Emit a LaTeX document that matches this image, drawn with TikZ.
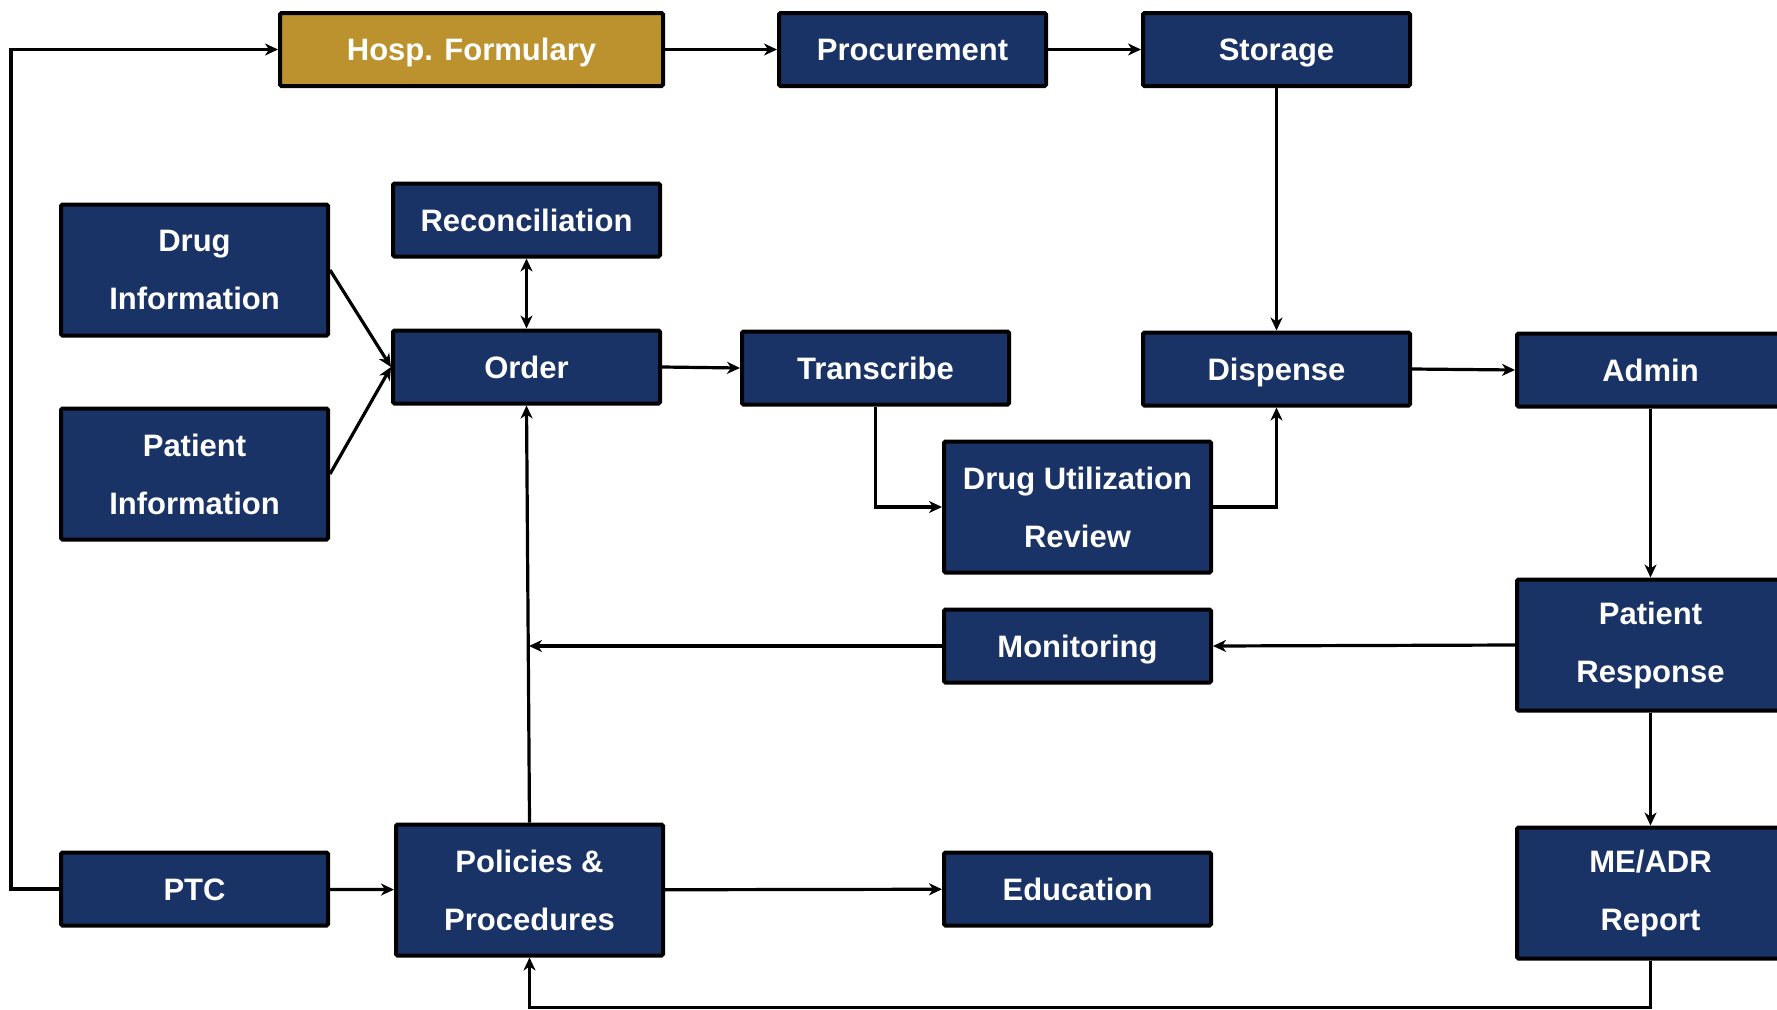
\documentclass[tikz,border=0pt]{standalone}
\usepackage{fontspec}
\setmainfont{Liberation Sans}
\usetikzlibrary{arrows.meta}
\definecolor{navy}{RGB}{26,51,102}
\definecolor{gold}{RGB}{188,146,46}
\tikzset{
  boxbase/.style={draw=black, line width=4pt, fill=navy, text=white,
    font=\fontsize{31}{58}\selectfont\bfseries, align=center,
    minimum width=267pt, inner sep=0pt, rounded corners=1.5pt},
  box/.style={boxbase, minimum height=73pt, text height=22pt, text depth=0pt},
  tallbox/.style={boxbase, minimum height=131pt},
  goldbox/.style={box, fill=gold},
  link/.style={line width=3.2pt, draw=black},
  arrow/.style={link, -{Stealth[length=13pt,width=12pt,inset=4pt]}},
  twoway/.style={link, {Stealth[length=13pt,width=12pt,inset=4pt]}-{Stealth[length=13pt,width=12pt,inset=4pt]}}
}
\begin{document}
\begin{tikzpicture}[x=1pt,y=-1pt]
\useasboundingbox (0,0) rectangle (1777,1009);
\clip (0,0) rectangle (1777,1009);

% supply chain row
\node[goldbox, minimum width=383pt] (hosp) at (471.5,49.5) {Hosp. Formulary};
\node[box] (proc) at (912.5,49.5) {Procurement};
\node[box] (stor) at (1276.5,49.5) {Storage};

% ordering
\node[box] (recon) at (526.5,220) {Reconciliation};
\node[tallbox] (druginfo) at (194.5,270) {Drug\\Information};
\node[box] (order) at (526.5,367) {Order};
\node[tallbox] (patinfo) at (194.5,474) {Patient\\Information};
\node[box] (trans) at (875.5,368) {Transcribe};
\node[box] (disp) at (1276.5,369) {Dispense};
\node[box] (admin) at (1650.5,370) {Admin};
\node[tallbox] (dur) at (1077.5,507) {Drug Utilization\\Review};

% monitoring and feedback
\node[box] (mon) at (1077.5,646) {Monitoring};
\node[tallbox] (presp) at (1650.5,645) {Patient\\Response};
\node[box] (ptc) at (194.5,889) {PTC};
\node[tallbox] (pol) at (529.5,890) {Policies \&\\Procedures};
\node[box] (edu) at (1077.5,889) {Education};
\node[tallbox] (mead) at (1650.5,893) {ME/ADR\\Report};

\coordinate (lft) at (11,889);
\coordinate (monend) at (529,646);
\coordinate (bot) at (1650.5,1007.5);

% connectors
\draw[arrow] (hosp) -- (proc);
\draw[arrow] (proc) -- (stor);
\draw[arrow] (stor) -- (disp);
\draw[twoway] (recon) -- (order);
\draw[arrow] (druginfo.east) -- (order.west);
\draw[arrow] (patinfo.east) -- (order.west);
\draw[arrow] (order.east) -- (trans.west);
\draw[arrow] (trans.south) |- (dur.west);
\draw[arrow] (dur.east) -| (disp.south);
\draw[arrow] (disp.east) -- (admin.west);
\draw[arrow] (admin) -- (presp);
\draw[arrow] (presp.west) -- (mon.east);
\draw[arrow] (mon.west) -- (monend);
\draw[arrow] (pol.north) -- (order.south);
\draw[arrow] (presp) -- (mead);
\draw[arrow] (ptc) -- (pol);
\draw[arrow] (pol) -- (edu);
\draw[arrow] (ptc.west) -- (lft) |- (hosp.west);
\draw[arrow] (mead.south) -- (bot) -| (pol.south);
\end{tikzpicture}
\end{document}
